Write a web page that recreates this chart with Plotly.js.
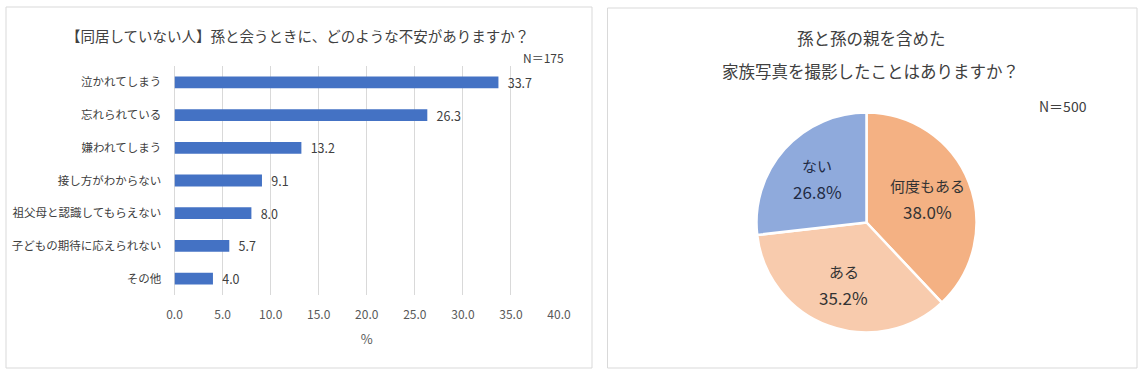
<!DOCTYPE html>
<html>
<head>
<meta charset="utf-8">
<script src="https://cdn.plot.ly/plotly-3.0.1.min.js"></script>
<style>
html,body{margin:0;padding:0;background:#fff;}
#chart{width:1144px;height:376px;}
</style>
</head>
<body>
<div id="chart"></div>
<script>
// ---- Data ----
const barCategories = ["泣かれてしまう","忘れられている","嫌われてしまう","接し方がわからない","祖父母と認識してもらえない","子どもの期待に応えられない","その他"];
const barValues = [33.7, 26.3, 13.2, 9.1, 8.0, 5.7, 4.0];
const barTitle = "【同居していない人】孫と会うときに、どのような不安がありますか？";
const barN = "N＝175";
const barAxisTitle = "%";
const xTickVals = [0,5,10,15,20,25,30,35,40];

const pieLabels = ["何度もある","ある","ない"];
const pieValues = [38.0, 35.2, 26.8];
const pieTitleLine1 = "孫と孫の親を含めた";
const pieTitleLine2 = "家族写真を撮影したことはありますか？";
const pieN = "N＝500";

const W = 1144, H = 376;
const px = x => x / W;
const py = y => 1 - y / H;
const FONT = "'Noto Sans CJK JP', 'Noto Sans', sans-serif";

// pie geometry (layout)
const PIE_CX = 866.5, PIE_CY = 222.5, PIE_R = 110;
const LABEL_R_FRAC = 0.6;

const barTrace = {
  type: "bar",
  orientation: "h",
  x: barValues,
  y: barCategories,
  marker: {color: "#4472C4"},
  width: 0.36,
  text: barValues.map(v => "\u2002" + v.toFixed(1)),
  textposition: "outside",
  constraintext: "none",
  cliponaxis: false,
  textfont: {family: FONT, size: 12.5, color: "#404040"},
  hoverinfo: "x+y",
  xaxis: "x", yaxis: "y"
};

const pieColors = ["#F4B183", "#F8CBAD", "#8FAADC"];
const pieTextColors = ["#333333", "#333333", "#1F2A44"];

const pieTrace = {
  type: "pie",
  labels: pieLabels,
  values: pieValues,
  sort: false,
  direction: "clockwise",
  rotation: 0,
  marker: {colors: pieColors, line: {color: "#ffffff", width: 2.5}},
  textinfo: "none",
  showlegend: false,
  domain: {x: [px(PIE_CX - PIE_R), px(PIE_CX + PIE_R)], y: [py(PIE_CY + PIE_R), py(PIE_CY - PIE_R)]}
};

// slice label annotations positioned at each slice's mid-angle (derived from the values)
const total = pieValues.reduce((a, b) => a + b, 0);
const pieAnnotations = [];
let cum = 0;
pieValues.forEach((v, i) => {
  const mid = (cum + v / 2) / total * 2 * Math.PI;
  cum += v;
  const r = PIE_R * LABEL_R_FRAC;
  const cx = PIE_CX + Math.sin(mid) * r;
  const cy = PIE_CY - Math.cos(mid) * r;
  pieAnnotations.push({text: pieLabels[i], xref: "paper", yref: "paper", x: px(cx), y: py(cy - 13),
    xanchor: "center", yanchor: "middle", showarrow: false,
    font: {family: FONT, size: 15, color: pieTextColors[i]}});
  pieAnnotations.push({text: v.toFixed(1) + "%", xref: "paper", yref: "paper", x: px(cx), y: py(cy + 13),
    xanchor: "center", yanchor: "middle", showarrow: false,
    font: {family: FONT, size: 17, color: pieTextColors[i]}});
});

const layout = {
  width: W, height: H,
  margin: {l: 0, r: 0, t: 0, b: 0},
  paper_bgcolor: "#ffffff",
  plot_bgcolor: "rgba(0,0,0,0)",
  font: {family: FONT, color: "#595959"},
  showlegend: false,
  xaxis: {
    domain: [px(174.5), px(559)],
    range: [0, 40],
    tickvals: xTickVals,
    ticktext: xTickVals.map(v => v.toFixed(1)),
    showgrid: true, gridcolor: "#D9D9D9", gridwidth: 1,
    zeroline: true, zerolinecolor: "#D9D9D9", zerolinewidth: 1,
    showline: false,
    ticks: "outside", ticklen: 9, tickcolor: "rgba(0,0,0,0)",
    tickfont: {family: FONT, size: 12, color: "#595959"},
    title: {text: barAxisTitle, font: {family: FONT, size: 13, color: "#595959"}, standoff: 13},
    fixedrange: true
  },
  yaxis: {
    domain: [py(295), py(66)],
    autorange: "reversed",
    showgrid: false, zeroline: false, showline: false,
    ticks: "outside", ticklen: 10, tickcolor: "rgba(0,0,0,0)",
    tickfont: {family: FONT, size: 11.5, color: "#404040"},
    fixedrange: true
  },
  shapes: [
    {type: "rect", xref: "paper", yref: "paper", x0: px(6), x1: px(592), y0: py(368), y1: py(7),
     line: {color: "#D9D9D9", width: 1}, fillcolor: "rgba(0,0,0,0)"},
    {type: "rect", xref: "paper", yref: "paper", x0: px(607.5), x1: px(1137), y0: py(368), y1: py(8),
     line: {color: "#D9D9D9", width: 1}, fillcolor: "rgba(0,0,0,0)"}
  ],
  annotations: [
    {text: barTitle, xref: "paper", yref: "paper", x: px(297), y: py(36), xanchor: "center", yanchor: "middle",
     showarrow: false, font: {family: FONT, size: 14.5, color: "#404040"}},
    {text: barN, xref: "paper", yref: "paper", x: px(543), y: py(57), xanchor: "center", yanchor: "middle",
     showarrow: false, font: {family: FONT, size: 12, color: "#404040"}},
    {text: pieTitleLine1, xref: "paper", yref: "paper", x: px(871), y: py(38), xanchor: "center", yanchor: "middle",
     showarrow: false, font: {family: FONT, size: 16.5, color: "#404040"}},
    {text: pieTitleLine2, xref: "paper", yref: "paper", x: px(870), y: py(71), xanchor: "center", yanchor: "middle",
     showarrow: false, font: {family: FONT, size: 16.5, color: "#404040"}},
    {text: pieN, xref: "paper", yref: "paper", x: px(1063), y: py(106), xanchor: "center", yanchor: "middle",
     showarrow: false, font: {family: FONT, size: 14, color: "#404040"}}
  ].concat(pieAnnotations)
};

Plotly.newPlot("chart", [barTrace, pieTrace], layout, {displayModeBar: false, staticPlot: true});
</script>
</body>
</html>
